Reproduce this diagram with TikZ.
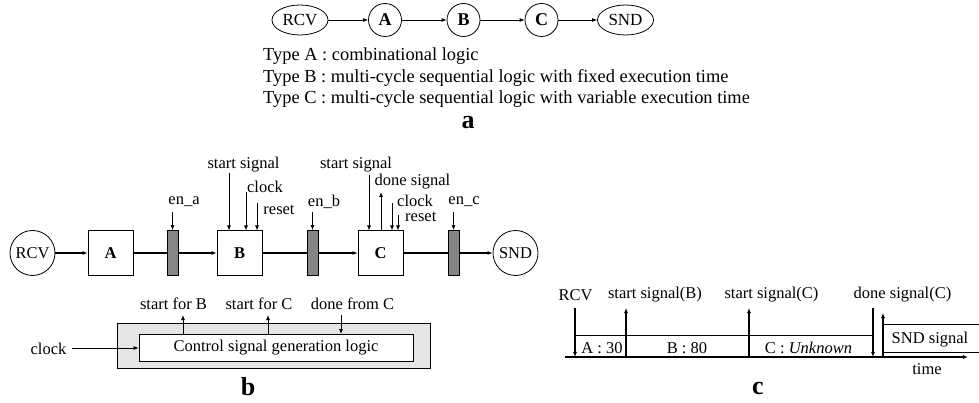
\documentclass[tikz,border=0pt]{standalone}
\usepackage{fontspec}
\setmainfont{Liberation Serif}
\usetikzlibrary{shapes.geometric,arrows.meta}
\begin{document}
\begin{tikzpicture}[x=1pt,y=-1pt,
  arr/.style={-{Latex[length=5pt,width=4pt]}},
  thin line/.style={line width=0.8pt},
  thick line/.style={line width=1.6pt},
  lab/.style={font=\fontsize{16.5}{18}\selectfont, inner sep=0pt},
  toplab/.style={font=\fontsize{18.4}{20}\selectfont, inner sep=0pt, anchor=base west},
  big/.style={font=\fontsize{26}{28}\selectfont\bfseries, inner sep=0pt},
  tell/.style={draw, ellipse, line width=0.8pt, minimum width=56pt, minimum height=30pt, inner sep=0pt, font=\fontsize{17}{19}\selectfont},
  tcirc/.style={draw, circle, line width=0.8pt, minimum size=33pt, inner sep=0pt, font=\fontsize{18}{20}\selectfont\bfseries},
  bcirc/.style={draw, circle, line width=0.8pt, minimum size=45pt, inner sep=0pt, font=\fontsize{16.5}{18}\selectfont},
  blk/.style={draw, line width=0.8pt, fill=white, minimum size=45pt, inner sep=0pt, font=\fontsize{16.5}{18}\selectfont\bfseries},
  reg/.style={draw, line width=0.8pt, fill=black!48, minimum width=11pt, minimum height=45pt, inner sep=0pt},
]
\useasboundingbox (0,0) rectangle (979,403);

% ---------- part a ----------
\node[tell] (aR) at (300,20) {RCV};
\node[tcirc] (aA) at (385,20) {A};
\node[tcirc] (aB) at (463.5,20) {B};
\node[tcirc] (aC) at (541.5,20) {C};
\node[tell] (aS) at (625.5,20) {SND};
\draw[arr,thin line] (aR) -- (aA);
\draw[arr,thin line] (aA) -- (aB);
\draw[arr,thin line] (aB) -- (aC);
\draw[arr,thin line] (aC) -- (aS);
\node[toplab] (tA) at (263,61) {Type A : combinational logic};
\node[toplab] (tB) at (263,83) {Type B : multi-cycle sequential logic with fixed execution time};
\node[toplab] (tC) at (263,104) {Type C : multi-cycle sequential logic with variable execution time};
\node[big] (la) at (468,123) {a};

% ---------- part b ----------
\node[bcirc] (bR) at (32.5,253) {RCV};
\node[blk] (bA) at (110.5,253) {A};
\node[reg] (ea) at (172.5,253) {};
\node[blk] (bB) at (239.5,253) {B};
\node[reg] (eb) at (312.5,253) {};
\node[blk] (bC) at (380.5,253) {C};
\node[reg] (ec) at (453.5,253) {};
\node[bcirc] (bS) at (515.5,253) {SND};
\draw[arr,thick line] (bR) -- (bA);
\draw[thick line] (bA) -- (ea);
\draw[arr,thick line] (ea) -- (bB);
\draw[thick line] (bB) -- (eb);
\draw[arr,thick line] (eb) -- (bC);
\draw[thick line] (bC) -- (ec);
\draw[arr,thick line] (ec) -- (bS);

% enable labels
\node[lab] (lea) at (184,202) {en\_a};
\node[lab] (leb) at (324,202) {en\_b};
\node[lab] (lec) at (464,202) {en\_c};
\coordinate (ca) at (172.5,212);
\coordinate (cb) at (312.5,212);
\coordinate (cc) at (453.5,212);
\draw[arr,thin line] (ca) -- (ea.north);
\draw[arr,thin line] (cb) -- (eb.north);
\draw[arr,thin line] (cc) -- (ec.north);

% B inputs
\node[lab] (bss) at (243.5,165) {start signal};
\node[lab] (bck) at (265,187) {clock};
\node[lab] (brs) at (279,210) {reset};
\coordinate (b1) at (229,173);
\coordinate (b2) at (246,192);
\coordinate (b3) at (257,203);
\draw[arr,thin line] (b1) -- (229,230.5);
\draw[arr,thin line] (b2) -- (246,230.5);
\draw[arr,thin line] (b3) -- (257,230.5);

% C inputs
\node[lab] (css) at (356,165) {start signal};
\node[lab] (cds) at (412.5,182) {done signal};
\node[lab,anchor=base west] (cck) at (397,207) {clock};
\node[lab,anchor=base west] (crs) at (405,222) {reset};
\coordinate (c1) at (369,175);
\coordinate (c2) at (381,192);
\coordinate (c3) at (392,203);
\coordinate (c4) at (398,215);
\draw[arr,thin line] (c1) -- (369,230.5);
\draw[arr,thin line] (381,230.5) -- (c2);
\draw[arr,thin line] (c3) -- (392,230.5);
\draw[arr,thin line] (c4) -- (398,230.5);

% control logic
\node[draw, line width=0.8pt, fill=gray!20, minimum width=313pt, minimum height=45pt, inner sep=0pt] (outer) at (273.5,345.5) {};
\node[draw, line width=0.8pt, fill=white, minimum width=274pt, minimum height=27pt, inner sep=0pt, font=\fontsize{16.5}{18}\selectfont] (ctl) at (276,347.5) {Control signal generation logic};
\node[lab] (lck) at (48.5,349) {clock};
\coordinate (ck0) at (72,348);
\draw[arr,thin line] (ck0) -- (ctl.west |- ck0);
\node[lab] (sfb) at (173.5,304) {start for B};
\node[lab] (sfc) at (259,304) {start for C};
\node[lab] (dfc) at (352.5,304) {done from C};
\coordinate (p1) at (183,315);
\coordinate (p2) at (268,315);
\coordinate (p3) at (341,315);
\draw[arr,thin line] (183,334) -- (p1);
\draw[arr,thin line] (268,334) -- (p2);
\draw[arr,thin line] (p3) -- (341,334);
\node[big] (lb) at (248,387) {b};

% ---------- part c ----------
\coordinate (ax0) at (565,357);
\coordinate (ax1) at (968,357);
\draw[arr,thick line] (ax0) -- (ax1);
\node[lab] (ltime) at (927,369) {time};
\coordinate (u0) at (575,335);
\coordinate (u1) at (873,335);
\draw[thin line] (u0) -- (u1);
\node[lab] (lrcv) at (575.5,295) {RCV};
\node[lab] (lsb) at (655,295) {start signal(B)};
\node[lab] (lsc) at (771.5,295) {start signal(C)};
\node[lab] (ldc) at (902.5,295) {done signal(C)};
\coordinate (r0) at (575,308);
\coordinate (r1) at (575,357);
\coordinate (sb0) at (626,357);
\coordinate (sb1) at (626,308);
\coordinate (sc0) at (749,357);
\coordinate (sc1) at (749,308);
\coordinate (d0) at (873,308);
\coordinate (d1) at (873,357);
\coordinate (s0) at (883,357);
\coordinate (s1) at (883,313);
\draw[arr,line width=1.2pt] (r0) -- (r1);
\draw[arr,line width=1.2pt] (sb0) -- (sb1);
\draw[arr,line width=1.2pt] (sc0) -- (sc1);
\draw[arr,line width=1.2pt] (d0) -- (d1);
\draw[arr,line width=1.2pt] (s0) -- (s1);
\coordinate (e0) at (883,324);
\coordinate (e1) at (979,324);
\coordinate (f0) at (883,352);
\coordinate (f1) at (979,352);
\draw[thin line] (e0) -- (e1);
\draw[thin line] (f0) -- (f1);
\node[lab] (lsnd) at (930,340) {SND signal};
\node[lab] (la30) at (602,348) {A : 30};
\node[lab] (lb80) at (687,348) {B : 80};
\node[lab] (lcu) at (808.5,348) {C : \textit{Unknown}};
\node[big] (lc) at (758,388) {c};
\end{tikzpicture}
\end{document}
